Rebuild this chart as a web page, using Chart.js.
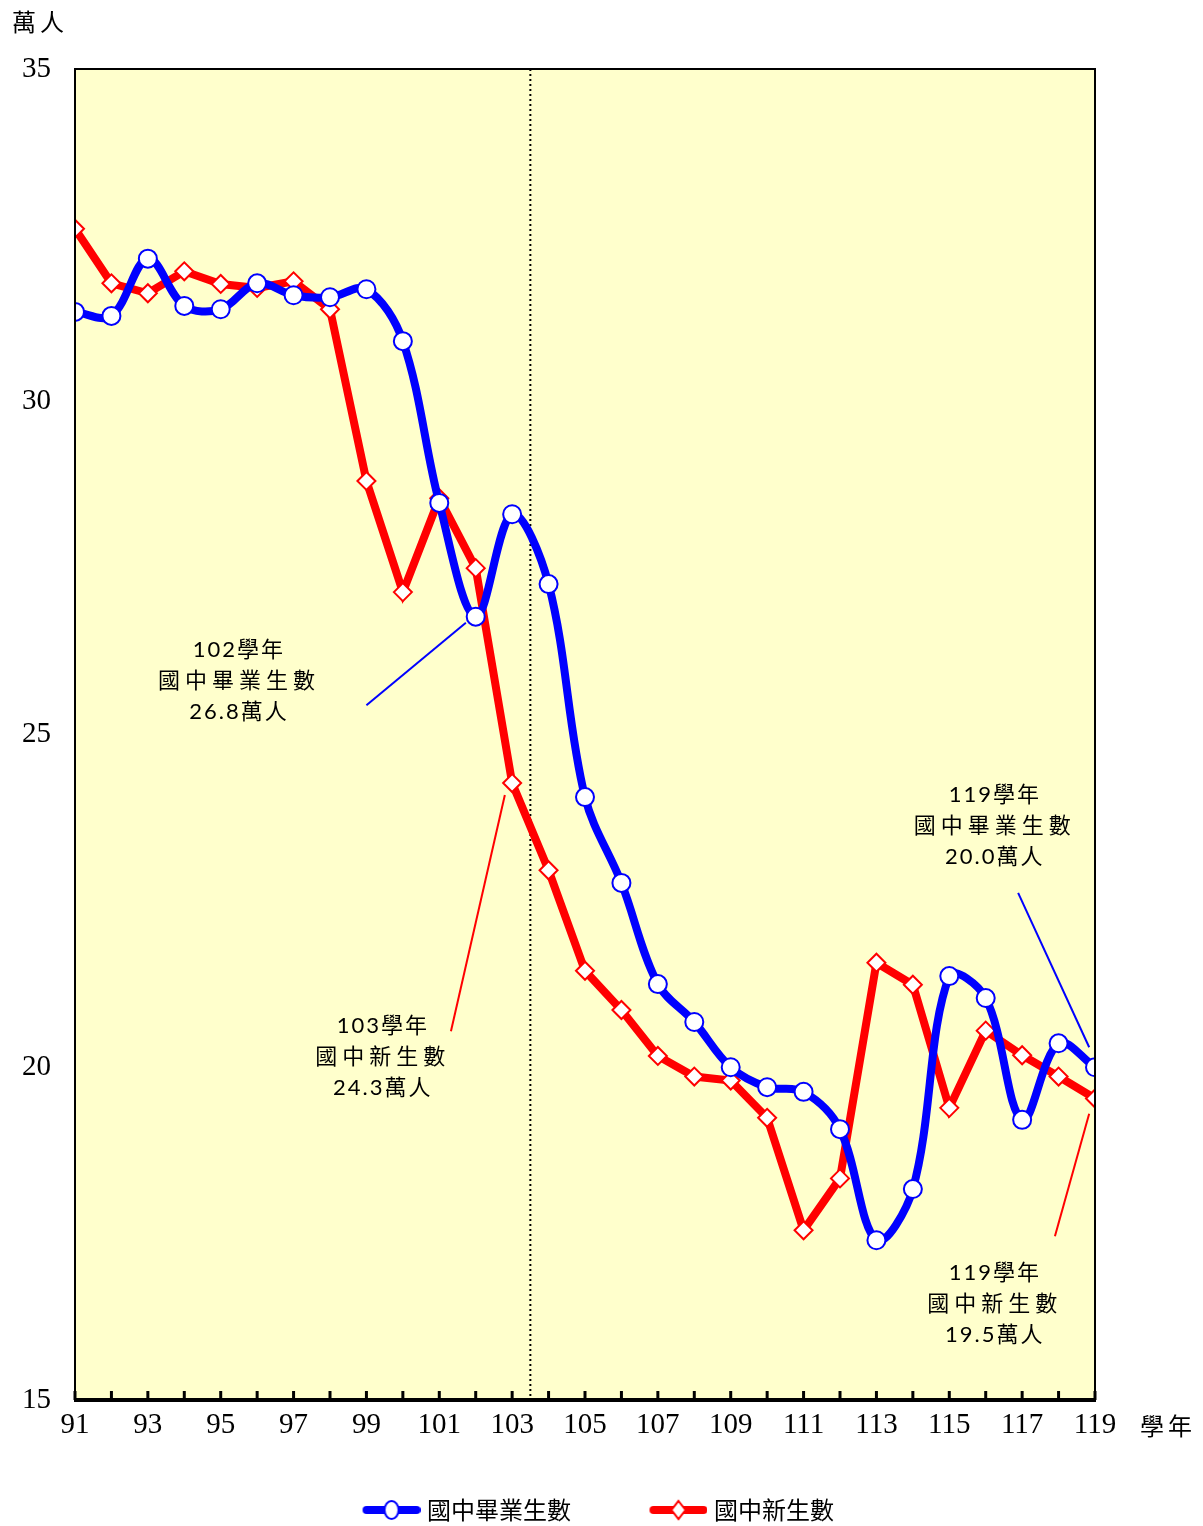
<!DOCTYPE html>
<html>
<head>
<meta charset="utf-8">
<script src="https://cdn.jsdelivr.net/npm/chart.js@4/dist/chart.umd.min.js"></script>
<style>
html,body{margin:0;padding:0;background:#fff;}
#c{display:block;}
</style>
</head>
<body>
<canvas id="c" width="1203" height="1526"></canvas>
<script>
// ---- data ----
const years = [91,92,93,94,95,96,97,98,99,100,101,102,103,104,105,106,107,108,109,110,111,112,113,114,115,116,117,118,119];
const graduates = [31.35,31.29,32.15,31.44,31.39,31.78,31.60,31.57,31.69,30.91,28.48,26.77,28.31,27.26,24.06,22.77,21.25,20.68,20.00,19.70,19.63,19.07,17.40,18.17,21.37,21.04,19.21,20.36,20.00];
const freshmen  = [32.60,31.78,31.63,31.96,31.77,31.71,31.81,31.39,28.81,27.14,28.55,27.50,24.27,22.96,21.45,20.86,20.17,19.86,19.80,19.24,17.55,18.33,21.57,21.24,19.39,20.55,20.18,19.86,19.53];
const seriesNames = ['國中畢業生數','國中新生數'];
const yTicks = [15,20,25,30,35];
const xLabelYears = [91,93,95,97,99,101,103,105,107,109,111,113,115,117,119];
const yUnit = '萬人';
const xUnit = '學年';
const dividerYear = 103.5;
const notes = [
  {lines:['102學年','國中畢業生數','26.8萬人'], x:95.5, y:26.27, color:'#0000FF', from:[99.0,25.44], to:[101.73,26.68]},
  {lines:['103學年','國中新生數','24.3萬人'], x:99.45, y:20.62, color:'#FF0000', from:[101.32,20.54], to:[102.80,24.09]},
  {lines:['119學年','國中畢業生數','20.0萬人'], x:116.25, y:24.09, color:'#0000FF', from:[116.89,22.62], to:[118.84,20.30]},
  {lines:['119學年','國中新生數','19.5萬人'], x:116.25, y:16.91, color:'#FF0000', from:[117.90,17.46], to:[118.84,19.30]}
];

const BLUE = '#0000FF', RED = '#FF0000', BG = '#FFFFCC';
const CJK = '"Noto Sans CJK TC", sans-serif';
const SERIF = '"Liberation Serif", "DejaVu Serif", serif';
const LEG_W = 79;

function legendImg(color, style){
  const cv = document.createElement('canvas');
  cv.width = 90; cv.height = 22;
  const g = cv.getContext('2d');
  g.strokeStyle = color; g.lineWidth = 8; g.lineCap = 'round';
  g.beginPath(); g.moveTo(36,11); g.lineTo(86,11); g.stroke();
  g.fillStyle = '#fff'; g.lineWidth = 2; g.strokeStyle = color;
  g.beginPath();
  if (style === 'circle') { g.ellipse(61,11,7,9,0,0,Math.PI*2); }
  else { g.moveTo(61,2); g.lineTo(68,11); g.lineTo(61,20); g.lineTo(54,11); g.closePath(); }
  g.fill(); g.stroke();
  return cv;
}
const legendImgs = [legendImg(BLUE,'circle'), legendImg(RED,'diamond')];

const decorPlugin = {
  id:'decor',
  beforeDraw(chart){
    const {ctx, chartArea:a} = chart;
    ctx.save();
    ctx.fillStyle = BG;
    ctx.fillRect(a.left, a.top, a.right-a.left, a.bottom-a.top);
    ctx.restore();
  },
  beforeDatasetsDraw(chart){
    const {ctx, chartArea:a, scales:{x}} = chart;
    ctx.save();
    const dx = x.getPixelForValue(dividerYear);
    ctx.strokeStyle = '#000'; ctx.lineWidth = 2; ctx.setLineDash([2,3]);
    ctx.beginPath(); ctx.moveTo(dx,a.top); ctx.lineTo(dx,a.bottom); ctx.stroke();
    ctx.setLineDash([]);
    ctx.restore();
  },
  afterDatasetsDraw(chart){
    const {ctx, chartArea:a, scales:{x,y}} = chart;
    ctx.save();
    ctx.strokeStyle = '#000'; ctx.lineWidth = 2;
    ctx.beginPath();
    ctx.moveTo(a.left, a.bottom); ctx.lineTo(a.left, a.top); ctx.lineTo(a.right, a.top); ctx.lineTo(a.right, a.bottom);
    ctx.stroke();
    ctx.lineWidth = 4;
    ctx.beginPath(); ctx.moveTo(a.left-1, a.bottom); ctx.lineTo(a.right+1, a.bottom); ctx.stroke();
    ctx.lineWidth = 3;
    years.forEach(v=>{
      const px = x.getPixelForValue(v);
      ctx.beginPath(); ctx.moveTo(px, a.bottom); ctx.lineTo(px, a.bottom-9); ctx.stroke();
    });
    notes.forEach(n=>{
      ctx.strokeStyle = n.color; ctx.lineWidth = 2;
      ctx.beginPath();
      ctx.moveTo(x.getPixelForValue(n.from[0]), y.getPixelForValue(n.from[1]));
      ctx.lineTo(x.getPixelForValue(n.to[0]), y.getPixelForValue(n.to[1]));
      ctx.stroke();
      const cx = x.getPixelForValue(n.x), cy = y.getPixelForValue(n.y);
      ctx.fillStyle = '#000'; ctx.textAlign = 'center'; ctx.textBaseline = 'middle';
      n.lines.forEach((t,i)=>{
        ctx.font = '22px "Lato", "Noto Sans CJK TC", sans-serif';
        ctx.letterSpacing = i===1 ? '5px' : '2px';
        ctx.fillText(t, cx, cy + i*31);
      });
    });
    ctx.letterSpacing = '0px';
    ctx.fillStyle = '#000';
    ctx.font = '24px ' + CJK; ctx.letterSpacing = '4px';
    ctx.textAlign = 'center'; ctx.textBaseline = 'middle';
    ctx.fillText(yUnit, 40, 22);
    ctx.fillText(xUnit, 1168, 1426);
    ctx.restore();
  }
};

new Chart(document.getElementById('c'), {
  type:'line',
  data:{
    datasets:[
      {label:seriesNames[0], data:years.map((v,i)=>({x:v,y:graduates[i]})),
       borderColor:BLUE, borderWidth:8, tension:0.35, cubicInterpolationMode:'default',
       pointStyle:'circle', pointRadius:9, pointBackgroundColor:'#fff', pointBorderColor:BLUE, pointBorderWidth:2},
      {label:seriesNames[1], data:years.map((v,i)=>({x:v,y:freshmen[i]})),
       borderColor:RED, borderWidth:8, tension:0,
       pointStyle:'rectRot', pointRadius:9, pointBackgroundColor:'#fff', pointBorderColor:RED, pointBorderWidth:2}
    ]
  },
  options:{
    responsive:false, animation:false, devicePixelRatio:1,
    layout:{padding:{left:0, right:108, top:69, bottom:-6}},
    scales:{
      x:{type:'linear', min:91, max:119,
         grid:{display:false}, border:{display:false},
         afterBuildTicks(s){ s.ticks = xLabelYears.map(v=>({value:v})); },
         afterFit(s){ s.height = 46; },
         ticks:{autoSkip:false, maxRotation:0, padding:0, color:'#000', font:{family:SERIF, size:29}}
      },
      y:{min:15, max:35,
         grid:{display:false}, border:{display:false},
         afterBuildTicks(s){ s.ticks = yTicks.map(v=>({value:v})); },
         afterFit(s){ s.width = 75; },
         ticks:{padding:16, color:'#000', font:{family:SERIF, size:29}}
      }
    },
    plugins:{
      tooltip:{enabled:false},
      legend:{position:'bottom', fullSize:false,
        labels:{usePointStyle:true, pointStyleWidth:LEG_W, color:'#000', font:{family:CJK, size:24}, padding:52,
          generateLabels(chart){
            return chart.data.datasets.map((d,i)=>({text:d.label, pointStyle:legendImgs[i], fillStyle:'#fff', strokeStyle:d.borderColor, lineWidth:0, hidden:false, datasetIndex:i, fontColor:'#000'}));
          }
        }
      }
    }
  },
  plugins:[decorPlugin]
});
</script>
</body>
</html>
